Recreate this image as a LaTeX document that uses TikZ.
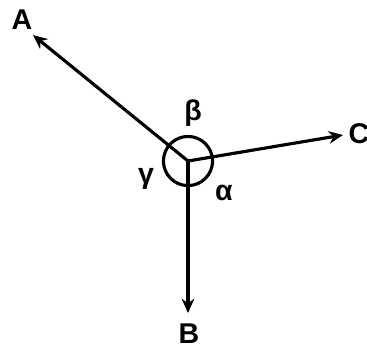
\documentclass[tikz,border=0pt]{standalone}
\usepackage{fontspec}
\setmainfont{Liberation Sans}
\usepackage{tikz}
\usetikzlibrary{arrows.meta}

\begin{document}
\begin{tikzpicture}[x=0.35pt, y=-0.35pt, line cap=round, line join=round,
	vec/.style={line width=1.1pt, -{Stealth[length=5pt, width=4.4pt]}},
	lbl/.style={font=\fontsize{10}{12}\selectfont\bfseries, inner sep=0pt}]
				\useasboundingbox (0,0) rectangle (367,348);
				\coordinate (O) at (188,161);
				\coordinate (A) at (33,35);
				\coordinate (C) at (343,135);
				\coordinate (B) at (188,313);
				
				\draw[vec] (O)--(A);
				\draw[vec] (O)--(C);
				\draw[vec] (O)--(B);
				\draw[line width=1.1pt] (O) circle[radius=8.6pt];
				
				\node[lbl] (labA) at (22,20) {A};
				\node[lbl] (labC) at (359,134) {C};
				\node[lbl] (labB) at (189,334) {B};
				\node[lbl] (beta) at (193,113) {β};
				\node[lbl] (gamma) at (146,179) {γ};
				\node[lbl] (alpha) at (224,193) {α};
			\end{tikzpicture}
\end{document}
